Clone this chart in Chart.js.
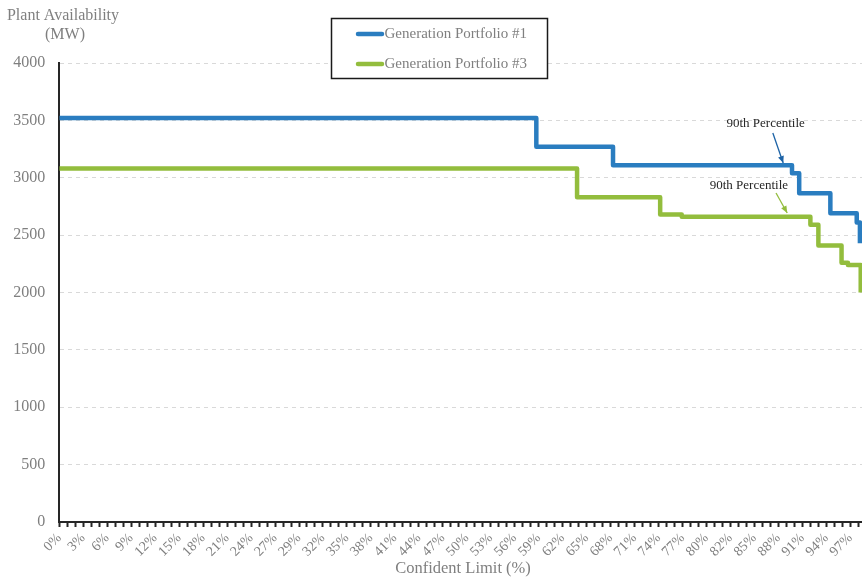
<!DOCTYPE html>
<html>
<head>
<meta charset="utf-8">
<script src="https://cdn.jsdelivr.net/npm/chart.js@4/dist/chart.umd.min.js"></script>
<style>
html, body { margin: 0; padding: 0; background: #fff; }
#wrap { width: 862px; height: 577px; }
</style>
</head>
<body>
<div id="wrap"><canvas id="chart"></canvas></div>
<script>
// x axis = confidence-limit step index, a label on every third step
const tickLabels = ['0%', '3%', '6%', '9%', '12%', '15%', '18%', '21%', '24%', '27%', '29%',
    '32%', '35%', '38%', '41%', '44%', '47%', '50%', '53%', '56%', '59%', '62%', '65%', '68%',
    '71%', '74%', '77%', '80%', '82%', '85%', '88%', '91%', '94%', '97%'];
const seriesNames = ['Generation Portfolio #1', 'Generation Portfolio #3'];

// step-down curves: value holds until the next step index
const p1Steps = [0, 59.7, 69.3, 91.7, 92.6, 96.5, 99.8, 100.2];
const p1Values = [3520, 3270, 3110, 3040, 2865, 2690, 2610, 2430];
const p3Steps = [0, 64.8, 75.2, 77.9, 94.0, 95.0, 97.9, 98.7, 100.3];
const p3Values = [3080, 2830, 2680, 2660, 2590, 2410, 2260, 2240, 2000];

// 90th percentile callouts: [text], [arrow start], [arrow end] as (step, MW)
const pctText = '90th Percentile';
const p1Callout = [[88.4, 3470], [89.3, 3390], [90.6, 3128]];
const p3Callout = [[86.3, 2928], [89.7, 2867], [91.1, 2693]];

const blue = '#2a7dc0';
const green = '#93bd3d';
const serif = "'Liberation Serif', 'Times New Roman', serif";
const grey = '#7f7f7f';

function toPoints(steps, values)
{
    return steps.map((s, i) => ({ x: s, y: values[i] }));
}

function arrow(ctx, x1, y1, x2, y2, color)
{
    ctx.save();
    ctx.strokeStyle = color;
    ctx.fillStyle = color;
    ctx.lineWidth = 1.3;
    ctx.beginPath();
    ctx.moveTo(x1, y1);
    ctx.lineTo(x2, y2);
    ctx.stroke();
    const a = Math.atan2(y2 - y1, x2 - x1);
    const len = 7, w = 3;
    ctx.beginPath();
    ctx.moveTo(x2, y2);
    ctx.lineTo(x2 - len * Math.cos(a) + w * Math.sin(a), y2 - len * Math.sin(a) - w * Math.cos(a));
    ctx.lineTo(x2 - len * Math.cos(a) - w * Math.sin(a), y2 - len * Math.sin(a) + w * Math.cos(a));
    ctx.closePath();
    ctx.fill();
    ctx.restore();
}

const extras = {
    id: 'extras',
    afterDraw(chart)
    {
        const ctx = chart.ctx;
        const xs = chart.scales.x, ys = chart.scales.y;

        // axis titles
        ctx.save();
        ctx.fillStyle = grey;
        ctx.textAlign = 'center';
        ctx.textBaseline = 'middle';
        ctx.font = '16px ' + serif;
        ctx.fillText('Plant Availability', 63, 16);
        ctx.fillText('(MW)', 65, 35);
        ctx.font = '16.5px ' + serif;
        ctx.fillText('Confident Limit (%)', 463, 569);
        ctx.restore();

        // callouts
        const callouts = [[p1Callout, '#1d63a6'], [p3Callout, green]];
        callouts.forEach(([c, color]) => {
            ctx.save();
            ctx.fillStyle = '#262626';
            ctx.font = '13px ' + serif;
            ctx.textAlign = 'center';
            ctx.textBaseline = 'middle';
            ctx.fillText(pctText, xs.getPixelForValue(c[0][0]), ys.getPixelForValue(c[0][1]));
            ctx.restore();
            arrow(ctx, xs.getPixelForValue(c[1][0]), ys.getPixelForValue(c[1][1]),
                xs.getPixelForValue(c[2][0]), ys.getPixelForValue(c[2][1]), color);
        });

        // legend box
        ctx.save();
        ctx.fillStyle = '#fff';
        ctx.fillRect(331.5, 18.5, 216, 60);
        ctx.strokeStyle = '#1a1a1a';
        ctx.lineWidth = 1.5;
        ctx.strokeRect(331.5, 18.5, 216, 60);
        chart.data.datasets.forEach((ds, i) => {
            const y = 34 + i * 30;
            ctx.strokeStyle = ds.borderColor;
            ctx.lineWidth = 4.5;
            ctx.lineCap = 'round';
            ctx.beginPath();
            ctx.moveTo(358, y);
            ctx.lineTo(382, y);
            ctx.stroke();
            ctx.fillStyle = grey;
            ctx.font = '15px ' + serif;
            ctx.textAlign = 'left';
            ctx.textBaseline = 'middle';
            ctx.fillText(ds.label, 384.5, y);
        });
        ctx.restore();
    }
};

new Chart(document.getElementById('chart'),
{
    type: 'line',
    data: {
        datasets: [
            {
                label: seriesNames[0],
                data: toPoints(p1Steps, p1Values),
                borderColor: blue,
                borderWidth: 4.5,
                stepped: true,
                pointRadius: 0,
                borderJoinStyle: 'round'
            },
            {
                label: seriesNames[1],
                data: toPoints(p3Steps, p3Values),
                borderColor: green,
                borderWidth: 4.5,
                stepped: true,
                pointRadius: 0,
                borderJoinStyle: 'round'
            }
        ]
    },
    options: {
        responsive: true,
        maintainAspectRatio: false,
        animation: false,
        layout: { padding: { top: 63, right: 0, left: 0, bottom: 0 } },
        plugins: {
            legend: { display: false },
            tooltip: { enabled: false }
        },
        scales: {
            x: {
                type: 'linear',
                min: 0,
                max: 100.46,
                afterFit: s => { s.height = 55; s.paddingLeft = 0; s.paddingRight = 0; },
                ticks: {
                    stepSize: 1,
                    includeBounds: false,
                    autoSkip: false,
                    maxRotation: 45,
                    minRotation: 45,
                    padding: 3,
                    color: grey,
                    font: { family: serif, size: 14 },
                    callback: v => (Number.isInteger(v) && v % 3 === 0) ? (tickLabels[v / 3] || '') : ''
                },
                grid: {
                    drawOnChartArea: false,
                    drawTicks: true,
                    tickLength: 5,
                    tickWidth: 2,
                    tickColor: '#262626'
                },
                border: { color: '#262626', width: 2 }
            },
            y: {
                min: 0,
                max: 4000,
                afterFit: s => { s.width = 59.3; },
                ticks: {
                    stepSize: 500,
                    padding: 14,
                    color: grey,
                    font: { family: serif, size: 16 },
                    callback: v => String(v)
                },
                grid: {
                    color: '#d9d9d9',
                    lineWidth: 1,
                    drawTicks: false
                },
                border: { color: '#262626', width: 2, dash: [4, 4] }
            }
        }
    },
    plugins: [extras]
});
</script>
</body>
</html>
